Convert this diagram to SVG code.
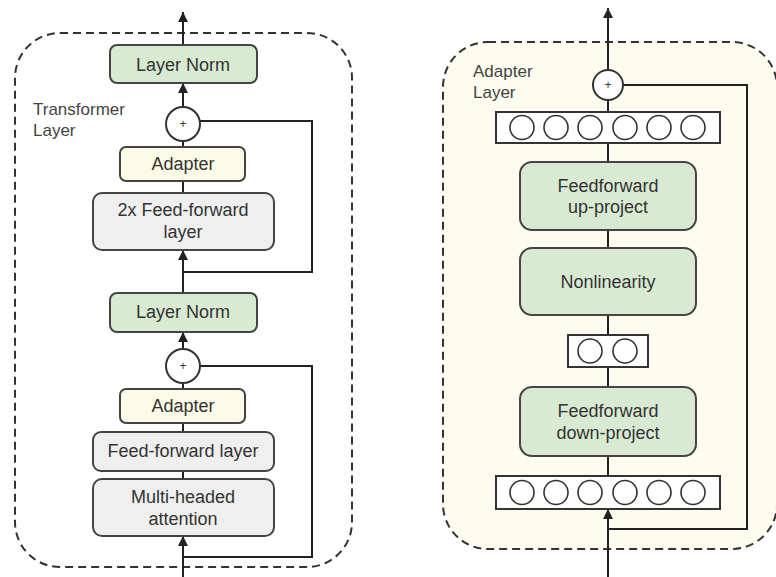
<svg xmlns="http://www.w3.org/2000/svg" width="776" height="577" viewBox="0 0 776 577">
<style>
.frame{fill:none;stroke:#333;stroke-width:2;stroke-dasharray:8 5}
.green{fill:#d9ead3;stroke:#444;stroke-width:2}
.yellow{fill:#fcfbe8;stroke:#444;stroke-width:2}
.gray{fill:#efefef;stroke:#444;stroke-width:2}
.plain{fill:#fff;stroke:#333;stroke-width:2}
.neuron{fill:#fff;stroke:#333;stroke-width:1.6}
.lbl{font-family:"Liberation Sans",Arial,sans-serif;font-size:18px;fill:#333;text-anchor:middle}
.title{font-family:"Liberation Sans",Arial,sans-serif;font-size:17px;fill:#444}
.plus{font-family:"Liberation Sans",Arial,sans-serif;font-size:12px;fill:#333;text-anchor:middle}
.wire{fill:none;stroke:#222;stroke-width:2}
</style>
<defs>
<marker id="arr" markerUnits="userSpaceOnUse" markerWidth="10" markerHeight="12" refX="10" refY="5" orient="auto">
<path d="M0,0 L10,5 L0,10 z" fill="#222"/>
</marker>
</defs>
<rect width="776" height="577" fill="#fff"/>
<g id="transformer-layer">
<rect class="frame" x="15" y="33" width="337" height="534" rx="45"/>
<text class="title" x="33" y="115">Transformer</text>
<text class="title" x="33" y="136">Layer</text>
</g>
<g id="adapter-layer">
<rect class="frame" x="443" y="42" width="334" height="507" rx="45" style="fill:#fdfcee"/>
<text class="title" x="473" y="77">Adapter</text>
<text class="title" x="473" y="98">Layer</text>
</g>
<g id="connectors">
<line class="wire" x1="183" y1="45" x2="183" y2="12" marker-end="url(#arr)"/>
<line class="wire" x1="183" y1="107" x2="183" y2="83" marker-end="url(#arr)"/>
<line class="wire" x1="183" y1="147" x2="183" y2="141"/>
<line class="wire" x1="183" y1="193" x2="183" y2="181"/>
<line class="wire" x1="183" y1="293" x2="183" y2="250" marker-end="url(#arr)"/>
<polyline class="wire" points="200,121 312,121 312,272 183,272"/>
<line class="wire" x1="183" y1="350" x2="183" y2="332" marker-end="url(#arr)"/>
<line class="wire" x1="183" y1="389" x2="183" y2="383"/>
<line class="wire" x1="183" y1="432" x2="183" y2="423"/>
<line class="wire" x1="183" y1="479" x2="183" y2="471"/>
<line class="wire" x1="183" y1="577" x2="183" y2="536" marker-end="url(#arr)"/>
<polyline class="wire" points="200,366 312,366 312,557 183,557"/>
<line class="wire" x1="608" y1="70" x2="608" y2="8" marker-end="url(#arr)"/>
<line class="wire" x1="608" y1="112" x2="608" y2="100"/>
<line class="wire" x1="608" y1="162" x2="608" y2="143"/>
<line class="wire" x1="608" y1="248" x2="608" y2="230"/>
<line class="wire" x1="608" y1="335" x2="608" y2="315"/>
<line class="wire" x1="608" y1="387" x2="608" y2="367"/>
<line class="wire" x1="608" y1="476" x2="608" y2="456"/>
<line class="wire" x1="608" y1="577" x2="608" y2="509" marker-end="url(#arr)"/>
<polyline class="wire" points="623,85 747,85 747,529 608,529"/>
</g>
<g id="layer-norm-top">
<rect class="green" x="110" y="45" width="147" height="38" rx="7"/>
<text class="lbl" x="183" y="71">Layer Norm</text>
</g>
<g id="add-top">
<circle class="plain" cx="183" cy="124" r="17"/>
<text class="plus" x="183" y="128">+</text>
</g>
<g id="adapter-top">
<rect class="yellow" x="120" y="147" width="125" height="34" rx="6"/>
<text class="lbl" x="183" y="170">Adapter</text>
</g>
<g id="ff2x">
<rect class="gray" x="93" y="193" width="181" height="57" rx="9"/>
<text class="lbl" x="183" y="216">2x Feed-forward</text>
<text class="lbl" x="183" y="238">layer</text>
</g>
<g id="layer-norm-bottom">
<rect class="green" x="110" y="293" width="147" height="39" rx="7"/>
<text class="lbl" x="183" y="318">Layer Norm</text>
</g>
<g id="add-bottom">
<circle class="plain" cx="183" cy="366" r="17"/>
<text class="plus" x="183" y="370">+</text>
</g>
<g id="adapter-bottom">
<rect class="yellow" x="120" y="389" width="125" height="34" rx="6"/>
<text class="lbl" x="183" y="412">Adapter</text>
</g>
<g id="ff">
<rect class="gray" x="93" y="432" width="181" height="39" rx="8"/>
<text class="lbl" x="183" y="457">Feed-forward layer</text>
</g>
<g id="mha">
<rect class="gray" x="93" y="479" width="181" height="57" rx="9"/>
<text class="lbl" x="183" y="503">Multi-headed</text>
<text class="lbl" x="183" y="525">attention</text>
</g>
<g id="add-adapter">
<circle class="plain" cx="608" cy="85" r="15"/>
<text class="plus" x="608" y="89">+</text>
</g>
<g id="neurons-top">
<rect class="plain" x="496" y="112" width="224" height="31"/>
<circle class="neuron" cx="522" cy="127.5" r="12"/>
<circle class="neuron" cx="556" cy="127.5" r="12"/>
<circle class="neuron" cx="590" cy="127.5" r="12"/>
<circle class="neuron" cx="625" cy="127.5" r="12"/>
<circle class="neuron" cx="659" cy="127.5" r="12"/>
<circle class="neuron" cx="693" cy="127.5" r="12"/>
</g>
<g id="up-project">
<rect class="green" x="520" y="162" width="176" height="68" rx="12"/>
<text class="lbl" x="608" y="192">Feedforward</text>
<text class="lbl" x="608" y="213">up-project</text>
</g>
<g id="nonlinearity">
<rect class="green" x="520" y="248" width="176" height="67" rx="12"/>
<text class="lbl" x="608" y="288">Nonlinearity</text>
</g>
<g id="neurons-mid">
<rect class="plain" x="568" y="335" width="80" height="32"/>
<circle class="neuron" cx="590" cy="351" r="12"/>
<circle class="neuron" cx="625" cy="351" r="12"/>
</g>
<g id="down-project">
<rect class="green" x="520" y="387" width="176" height="69" rx="12"/>
<text class="lbl" x="608" y="417">Feedforward</text>
<text class="lbl" x="608" y="439">down-project</text>
</g>
<g id="neurons-bottom">
<rect class="plain" x="496" y="476" width="224" height="33"/>
<circle class="neuron" cx="522" cy="492.5" r="12"/>
<circle class="neuron" cx="556" cy="492.5" r="12"/>
<circle class="neuron" cx="590" cy="492.5" r="12"/>
<circle class="neuron" cx="625" cy="492.5" r="12"/>
<circle class="neuron" cx="659" cy="492.5" r="12"/>
<circle class="neuron" cx="693" cy="492.5" r="12"/>
</g>
</svg>
